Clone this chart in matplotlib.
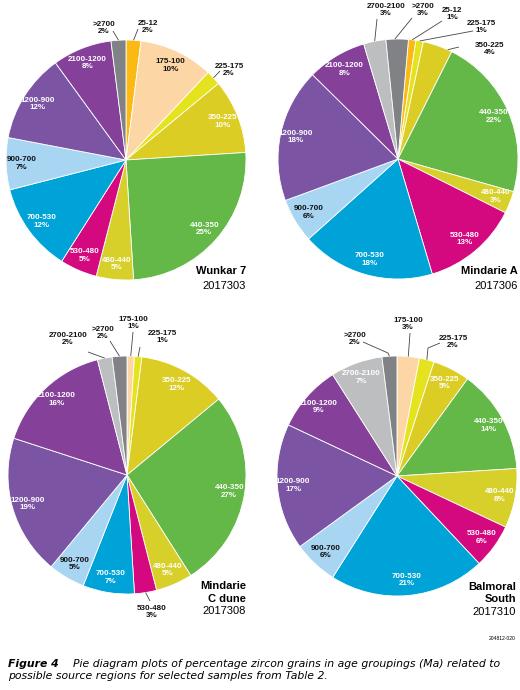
import matplotlib
matplotlib.use("Agg")
import matplotlib.pyplot as plt
import numpy as np

# age groupings (Ma), same order for every sample, clockwise from the top
categories = ["25-12", "175-100", "225-175", "350-225", "440-350", "480-440",
              "530-480", "700-530", "900-700", "1200-900", "2100-1200",
              "2700-2100", ">2700"]
colors = ["#fdb913", "#fdd6a6", "#e5e31e", "#dccd24", "#63b847", "#d8d02a",
          "#d4087f", "#00a3d7", "#a8d5f1", "#7b55a3", "#85419a", "#bcbec0",
          "#808285"]
dark_text = {"175-100", "900-700"}

# percentages per sample
wunkar7 = [2, 10, 2, 10, 25, 5, 5, 12, 7, 12, 8, 0, 2]
mindarie_a = [1, 0, 1, 4, 22, 3, 13, 18, 6, 18, 8, 3, 3]
mindarie_c = [0, 1, 1, 12, 27, 5, 3, 7, 5, 19, 16, 2, 2]
balmoral = [0, 3, 2, 5, 14, 8, 6, 21, 6, 17, 9, 7, 2]

sample_names = ["Wunkar 7", "Mindarie A", "Mindarie\nC dune", "Balmoral\nSouth"]
sample_ids = ["2017303", "2017306", "2017308", "2017310"]

W, H = 520, 690
LBL = ["Liberation Sans Narrow", "Liberation Sans", "DejaVu Sans"]
LBL_SIZE = 5.8

# layout in pixels (x right, y down): centre, radius, start angle, name block,
# outside labels: cat -> (text x, text y, line x, line y, elbow, frac on wedge)
layout = [
    dict(c=(126, 160), r=120, start=90, name=(246, 274, 14.7),
         out={">2700": (104, 28, 113, 31, None, 0.5),
              "25-12": (148, 27, 138, 29, None, 0.5),
              "225-175": (229, 70, 220, 71, None, 0.5)}),
    dict(c=(398, 159), r=120, start=85, name=(518, 274, 14.7),
         out={"2700-2100": (386, 10, 377, 19, None, 0.5),
              ">2700": (423, 10, 412, 18, None, 0.6),
              "25-12": (452, 14, 442, 21, None, 0.5),
              "225-175": (481, 27, 473, 31, None, 0.5),
              "350-225": (490, 49, 459, 47, None, 0.15)}),
    dict(c=(127, 475), r=119, start=90, name=(246, 589, 12.5),
         out={"2700-2100": (68, 339, 88, 352, None, 0.5),
              ">2700": (103, 333, 110, 341, None, 0.5),
              "175-100": (133, 323, 133, 332, None, 0.5),
              "225-175": (162, 337, 140, 347, None, 0.5),
              "530-480": (152, 612, 150, 601, None, 0.5)}),
    dict(c=(397, 476), r=120, start=90, name=(516, 590, 12.5),
         out={"175-100": (408, 324, 410, 333, None, 0.5),
              "225-175": (453, 342, 440, 343, (428, 348), 0.5),
              ">2700": (355, 339, 363, 342, (388, 353), 0.5)}),
]

fig = plt.figure(figsize=(W / 100, H / 100), dpi=100)
ax = fig.add_axes([0, 0, 1, 1])

for vals, lay, nm, sid in zip([wunkar7, mindarie_a, mindarie_c, balmoral],
                              layout, sample_names, sample_ids):
    keep = [i for i, v in enumerate(vals) if v > 0]
    v = [vals[i] for i in keep]
    cats = [categories[i] for i in keep]
    cols = [colors[i] for i in keep]
    cx, cy = lay["c"][0], H - lay["c"][1]
    r = lay["r"]
    wedges, _ = ax.pie(v, colors=cols, center=(cx, cy), radius=r,
                       startangle=lay["start"], counterclock=False,
                       wedgeprops=dict(edgecolor="white", linewidth=0.6))

    for w, cat, val in zip(wedges, cats, v):
        txt = f"{cat}\n{val}%"
        if cat in lay["out"]:
            tx, ty, lx, ly, elbow, frac = lay["out"][cat]
            ang = np.deg2rad(w.theta1 + frac * (w.theta2 - w.theta1))
            px = [lx] + ([elbow[0]] if elbow else []) + [cx + r * np.cos(ang)]
            py = [H - ly] + ([H - elbow[1]] if elbow else []) + [cy + r * np.sin(ang)]
            ax.plot(px, py, color="#444444", lw=0.6, solid_capstyle="butt")
            ax.text(tx, H - ty, txt, ha="center", va="center", fontsize=LBL_SIZE,
                    fontweight="bold", family=LBL, color="#111111",
                    linespacing=1.05)
        else:
            ang = np.deg2rad((w.theta1 + w.theta2) / 2)
            d = 0.87 * r
            ax.text(cx + d * np.cos(ang), cy + d * np.sin(ang), txt,
                    ha="center", va="center", fontsize=LBL_SIZE, fontweight="bold",
                    family=LBL, linespacing=1.15,
                    color="#111111" if cat in dark_text else "white")

    nx, ny, step = lay["name"]
    lines = nm.split("\n")
    for k, ln in enumerate(lines):
        ax.text(nx, H - (ny + k * step), ln, ha="right", va="baseline",
                fontsize=8, fontweight="bold", family="Liberation Sans")
    ax.text(nx, H - (ny + len(lines) * step), sid, ha="right", va="baseline",
            fontsize=8, family="Liberation Sans")

ax.text(516, H - 640, "204812-020", ha="right", va="baseline", fontsize=3.6,
        family="Liberation Sans")
ax.text(8, H - 667, "Figure 4", ha="left", va="baseline", fontsize=7.8,
        fontweight="bold", style="italic", family="DejaVu Sans")
ax.text(73, H - 667,
        "Pie diagram plots of percentage zircon grains in age groupings (Ma) related to",
        ha="left", va="baseline", fontsize=7.8, style="italic", family="DejaVu Sans")
ax.text(8, H - 679, "possible source regions for selected samples from Table 2.",
        ha="left", va="baseline", fontsize=7.8, style="italic", family="DejaVu Sans")

ax.set_xlim(0, W)
ax.set_ylim(0, H)
ax.set_aspect("equal")
ax.axis("off")

fig.savefig("out.png", dpi=100, facecolor="white")
plt.close(fig)
